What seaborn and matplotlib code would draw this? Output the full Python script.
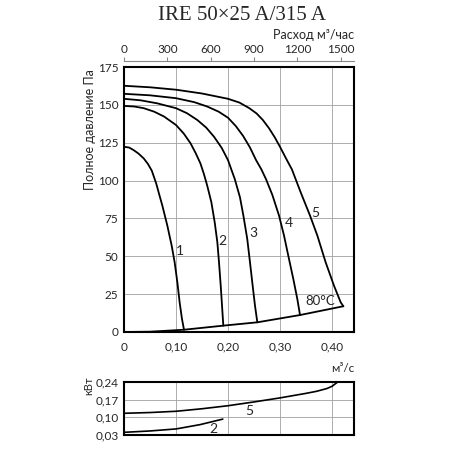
import numpy as np
import pandas as pd
import matplotlib
matplotlib.use("Agg")
import matplotlib.pyplot as plt
import seaborn as sns

# fan curves, x in m3/s, y in Pa
c1_x = [0, 0.01, 0.019, 0.028, 0.038, 0.046, 0.0535, 0.062, 0.068, 0.0737, 0.0833,
        0.0917, 0.0974, 0.1026, 0.107, 0.1115, 0.1154]
c1_y = [122.3, 121.8, 120, 117.8, 114.6, 111, 106.5, 98, 90.5, 83.5, 70.3,
        57, 46, 32.8, 19.6, 8.6, 1.5]
c2_x = [0, 0.02, 0.038, 0.058, 0.077, 0.1, 0.115, 0.128, 0.138, 0.147, 0.1535,
        0.16, 0.168, 0.1744, 0.1795, 0.1827, 0.186, 0.1885, 0.191]
c2_y = [149.3, 148.9, 147.8, 145.5, 142.3, 136.7, 131, 124.6, 118, 111.3, 104.5,
        96.7, 85.7, 72.5, 59.3, 46, 30.6, 17.4, 4.2]
c3_x = [0, 0.032, 0.064, 0.1, 0.121, 0.141, 0.158, 0.173, 0.188, 0.2, 0.213,
        0.223, 0.2295, 0.237, 0.2423, 0.2474, 0.2519, 0.2564]
c3_y = [154, 153, 151, 147.8, 144.5, 140, 135, 129, 121.5, 113.5, 101,
        89, 77, 61.5, 46, 30.6, 17.4, 6.4]
c4_x = [0, 0.05, 0.1, 0.135, 0.16, 0.182, 0.2, 0.215, 0.229, 0.242, 0.254, 0.264,
        0.273, 0.2853, 0.2981, 0.3077, 0.3173, 0.3256, 0.3333, 0.3385]
c4_y = [157.3, 156.3, 154.4, 151.8, 148.9, 145.5, 141.5, 136, 129.5, 122, 113.5, 107.5,
        101, 90.5, 76.9, 63.7, 48.2, 35, 21.8, 11.2]
c5_x = [0, 0.05, 0.1, 0.15, 0.2, 0.222, 0.241, 0.255, 0.267, 0.279, 0.29, 0.3,
        0.311, 0.323, 0.3397, 0.3577, 0.3718, 0.3878, 0.4038, 0.4167, 0.4218]
c5_y = [162.6, 161.6, 160, 157.5, 154, 151.5, 147.8, 144.3, 140, 134.5, 128.5, 122.3,
        115, 107.3, 92.3, 76.9, 63.7, 46, 30.6, 19.6, 17]
curve_names = ["1", "2", "3", "4", "5"]
label_x = [0.107, 0.19, 0.2481, 0.3173, 0.3686]
label_y = [53.7, 60.4, 65.2, 71.8, 78.4]

# system line (80 C)
sys_x = [0, 0.05, 0.1154, 0.191, 0.2564, 0.3385, 0.4218]
sys_y = [0, 0.2, 1.5, 4.2, 6.4, 11.2, 17]

# power curves, kW
p5_x = [0, 0.05, 0.1, 0.15, 0.2, 0.25, 0.3, 0.35, 0.37, 0.39, 0.4, 0.411]
p5_y = [0.116, 0.119, 0.124, 0.134, 0.146, 0.161, 0.177, 0.195, 0.203, 0.214, 0.223, 0.24]
p2_x = [0, 0.05, 0.1, 0.146, 0.19]
p2_y = [0.0406, 0.046, 0.054, 0.071, 0.093]

x_ticks = [0, 0.1, 0.2, 0.3, 0.4]
x_ticklabels = ["0", "0,10", "0,20", "0,30", "0,40"]
y_ticks = [0, 25, 50, 75, 100, 125, 150, 175]
top_ticks = [0, 300, 600, 900, 1200, 1500]
p_ticks = [0.03, 0.10, 0.17, 0.24]
p_ticklabels = ["0,03", "0,10", "0,17", "0,24"]

sns.set_style("white")
plt.rcParams['font.family'] = ['Lato', 'DejaVu Sans']

fig = plt.figure(figsize=(4.5, 4.5), dpi=100)
ax = fig.add_axes([124/450, 1-332/450, 230/450, 265/450])
ax2 = fig.add_axes([124/450, 1-435/450, 230/450, 53/450])

grid_c = "#a0a0a0"
curves = [(c1_x, c1_y), (c2_x, c2_y), (c3_x, c3_y), (c4_x, c4_y), (c5_x, c5_y)]
for cx, cy in curves:
    df = pd.DataFrame({"q": cx, "p": cy})
    sns.lineplot(data=df, x="q", y="p", sort=False, color="black", lw=1.3, ax=ax)
sns.lineplot(x=sys_x, y=sys_y, sort=False, color="black", lw=1.3, ax=ax)

for name, lx, ly in zip(curve_names, label_x, label_y):
    ax.text(lx, ly, name, fontsize=10, ha="center", va="center")
ax.text(0.377, 20.5, "80°C", fontsize=9.5, ha="center", va="center")

ax.set_xlim(0, 0.4423)
ax.set_ylim(0, 175)
ax.set_xticks(x_ticks)
ax.set_xticklabels(x_ticklabels)
ax.set_yticks(y_ticks)
ax.tick_params(length=0, labelsize=8.5, pad=4)
ax.tick_params(axis="x", pad=7)
ax.grid(True, color=grid_c, lw=0.6)
ax.set_xlabel("")
ax.set_ylabel("")
for s in ax.spines.values():
    s.set_color("black")
    s.set_linewidth(1.5)

sec = ax.secondary_xaxis('top', functions=(lambda q: q * 3600, lambda v: v / 3600))
sec.set_xticks(top_ticks)
sec.spines['top'].set_position(('outward', 4.5))
sec.spines['top'].set_color("#888888")
sec.spines['top'].set_linewidth(0.8)
sec.tick_params(length=3, width=0.8, color="#888888", labelsize=8.5, pad=1)

fig.text(242.5/450, 1-15/450, "IRE 50×25 A/315 A", fontsize=15, ha="center", va="center",
         family="Liberation Serif")
fig.text(354/450, 1-35/450, "Расход м³/час", fontsize=9, ha="right", va="center")
fig.text(90/450, 1-130/450, "Полное давление Па", fontsize=9, rotation=90,
         ha="center", va="center")
fig.text(354/450, 1-368/450, "м³/с", fontsize=8.5, ha="right", va="center")
fig.text(89/450, 1-386/450, "кВт", fontsize=8, rotation=90, ha="center", va="center")

# power chart
sns.lineplot(x=p5_x, y=p5_y, sort=False, color="black", lw=1.2, ax=ax2)
sns.lineplot(x=p2_x, y=p2_y, sort=False, color="black", lw=1.2, ax=ax2)
ax2.text(0.24, 0.125, "5", fontsize=10, ha="center", va="center")
ax2.text(0.171, 0.052, "2", fontsize=10, ha="center", va="center")
ax2.set_xlim(0, 0.4423)
ax2.set_ylim(0.03, 0.24)
ax2.set_xticks(x_ticks)
ax2.set_xticklabels([])
ax2.set_yticks(p_ticks)
ax2.set_yticklabels(p_ticklabels)
ax2.tick_params(length=0, labelsize=8.5, pad=4)
ax2.grid(True, color=grid_c, lw=0.6)
for s in ax2.spines.values():
    s.set_color("black")
    s.set_linewidth(1.5)

fig.savefig("out.png", dpi=100, facecolor="white")
